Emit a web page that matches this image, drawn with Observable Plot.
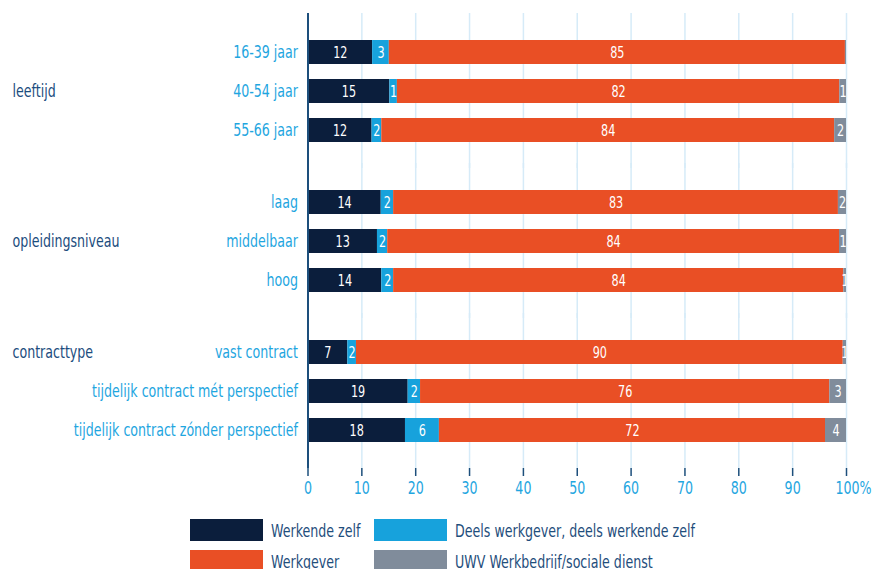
<!DOCTYPE html>
<html>
<head>
<meta charset="utf-8">
<script src="https://cdn.jsdelivr.net/npm/d3@7"></script>
<script src="https://cdn.jsdelivr.net/npm/@observablehq/plot@0.6"></script>
<style>
  html, body { margin: 0; padding: 0; background: #fff; }
  body { width: 875px; height: 569px; overflow: hidden; font-family: 'DejaVu Sans Condensed', 'Liberation Sans Narrow', 'Liberation Sans', sans-serif; }
  #chart svg { display: block; }
  .legend { display: grid; grid-template-columns: 184px 300px; grid-auto-rows: 22px; row-gap: 9px; margin-left: 190px; margin-top: 14px; }
  .item { display: flex; align-items: center; color: #1f4e7c; font-size: 18px; white-space: nowrap; height: 22px; }
  .sw { width: 73px; height: 22px; margin-right: 8px; flex: none; }
  .lt { display: inline-block; transform: scaleX(0.78); transform-origin: left center; }
</style>
</head>
<body>
<div id="chart"></div>
<script>
const FONT = "'DejaVu Sans Condensed', 'Liberation Sans Narrow', 'Liberation Sans', sans-serif";

const categories = ["16-39 jaar", "40-54 jaar", "55-66 jaar", "laag", "middelbaar", "hoog", "vast contract", "tijdelijk contract mét perspectief", "tijdelijk contract zónder perspectief"];
const categoryGroup = ["leeftijd", "leeftijd", "leeftijd", "opleidingsniveau", "opleidingsniveau", "opleidingsniveau", "contracttype", "contracttype", "contracttype"];
const groups = ["leeftijd", "opleidingsniveau", "contracttype"];
const groupLabelAt = ["40-54 jaar", "middelbaar", "vast contract"];

const series = ["Werkende zelf", "Deels werkgever, deels werkende zelf", "Werkgever", "UWV Werkbedrijf/sociale dienst"];
const colors = ["#0b1e3c", "#17a2dc", "#e94f25", "#808c9b"];

const werkendeZelf = [12.0, 15.2, 11.9, 13.6, 12.9, 13.7, 7.4, 18.6, 18.1];
const deelsWerkgever = [3.1, 1.4, 1.8, 2.3, 1.9, 2.2, 1.6, 2.3, 6.3];
const werkgever = [84.7, 82.15, 84.1, 82.6, 83.9, 83.6, 90.4, 76.0, 71.7];
const uwv = [0.2, 1.25, 2.2, 1.5, 1.3, 0.5, 0.6, 3.1, 3.9];

const xTicks = [0, 10, 20, 30, 40, 50, 60, 70, 80, 90, 100];

const valuesBySeries = [werkendeZelf, deelsWerkgever, werkgever, uwv];
const rowIndex = categories.map((c, i) => categoryGroup.slice(0, i).filter(g => g === categoryGroup[i]).length);

const catData = categories.map((c, i) => ({category: c, group: categoryGroup[i], row: rowIndex[i]}));
const long = [];
catData.forEach((d, i) => {
  series.forEach((s, j) => long.push({...d, series: s, value: valuesBySeries[j][i]}));
});
const groupData = groups.map((g, k) => ({group: g, row: rowIndex[categories.indexOf(groupLabelAt[k])]}));

const gridColor = "#d6ebf8";
const axisColor = "#1d4f7c";
const tickTextColor = "#1fa6df";

const chart = Plot.plot({
  width: 875,
  height: 505,
  marginLeft: 307.5,
  marginRight: 29,
  marginTop: 22,
  marginBottom: 45,
  style: {fontFamily: FONT, background: "white", overflow: "visible"},
  x: {domain: [0, 100], label: null},
  y: {domain: [0, 1, 2], axis: null, paddingInner: 0.385, paddingOuter: 0.401},
  fy: {domain: groups, axis: null, paddingInner: 0.0993, paddingOuter: 0},
  color: {domain: series, range: colors},
  marks: [
    Plot.ruleX(xTicks.slice(1), {x: d => d, stroke: gridColor, strokeWidth: 1.5, insetTop: -10, insetBottom: -10}),
    Plot.barX(long, Plot.stackX({x: "value", y: "row", fy: "group", fill: "series"})),
    Plot.ruleX([0], {x: d => d, stroke: axisColor, strokeWidth: 2, insetTop: -10, insetBottom: -10}),
    Plot.text(long, Plot.stackX({
      x: "value", y: "row", fy: "group", z: "series",
      text: d => Math.round(d.value) > 0 ? String(Math.round(d.value)) : "",
      fill: "white", fontSize: 16, clip: true
    })),
    Plot.text(catData, {fy: "group", y: "row", text: "category", frameAnchor: "left", textAnchor: "end", dx: -10, fill: "#1fa6df", fontSize: 18}),
    Plot.text(groupData, {fy: "group", y: "row", text: "group", frameAnchor: "left", textAnchor: "start", dx: -295.5, fill: "#1c4d7e", fontSize: 18}),
    Plot.axisX(xTicks, {anchor: "bottom", tickSize: 8, dy: 10, tickPadding: 5, stroke: axisColor, strokeWidth: 1.5, fill: tickTextColor, fontSize: 18, label: null, tickFormat: d => d === 100 ? "" : String(d)}),
    Plot.axisX([100], {anchor: "bottom", tickSize: 0, dy: 10, tickPadding: 13, fill: tickTextColor, fontSize: 18, label: null, tickFormat: d => d + "%", textAnchor: "start", dx: -11})
  ]
});
document.getElementById("chart").appendChild(chart);

// condensed look: narrow every text horizontally around its own anchor
chart.querySelectorAll("text").forEach(t => {
  const tr = t.getAttribute("transform") || "";
  const x = +(t.getAttribute("x") || 0);
  t.setAttribute("transform", `${tr} translate(${x},0) scale(0.78,1) translate(${-x},0)`);
});

const legend = d3.select("body").append("div").attr("class", "legend");
series.forEach((s, j) => {
  const item = legend.append("div").attr("class", "item");
  item.append("div").attr("class", "sw").style("background", colors[j]);
  item.append("span").attr("class", "lt").text(s);
});
</script>
</body>
</html>
